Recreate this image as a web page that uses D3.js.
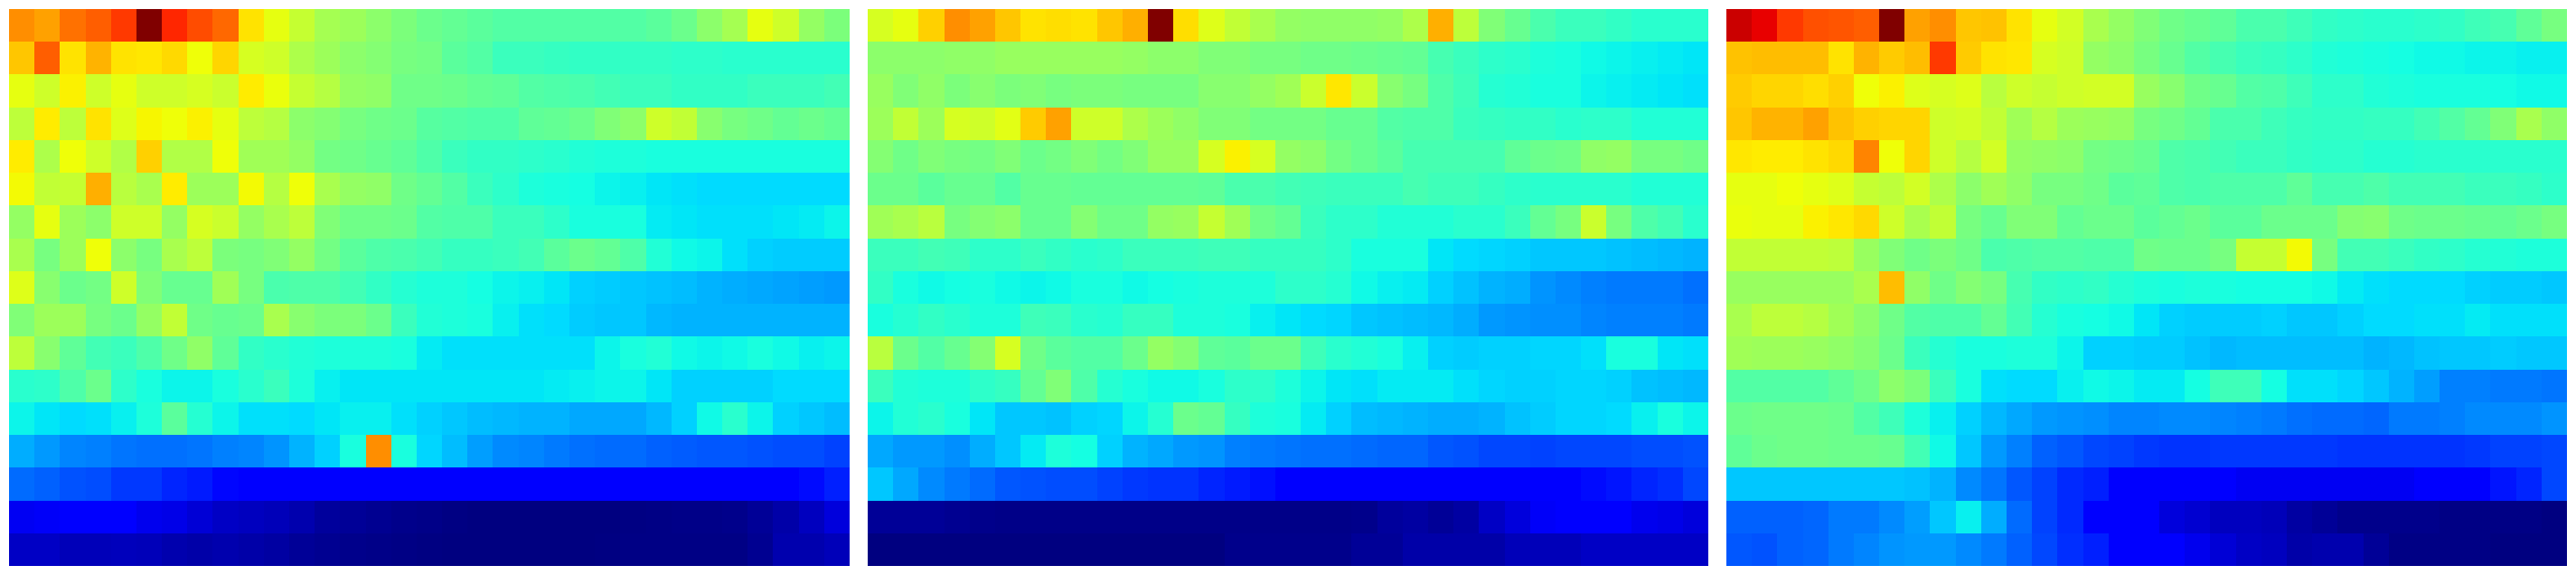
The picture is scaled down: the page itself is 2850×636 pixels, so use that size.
<!DOCTYPE html>
<html><head><meta charset="utf-8">
<script src="https://cdn.jsdelivr.net/npm/d3@7/dist/d3.min.js"></script>
<style>html,body{margin:0;padding:0;background:#fff}svg{display:block}</style>
</head><body><div id="c"></div>
<script>
const panelA = [
[76,74,79,81,85,100,87,83,80,67,63,59,55,54,52,50,48,47,46,45,45,45,45,45,45,46,48,52,55,63,60,53,50],
[70,81,67,72,67,66.5,68,64,68.5,61,60,56,54,52,51,49.5,49,46,45,42,42,41.5,41,41,41,41,40.5,40.5,40,40,40,40,40],
[63,60,65.5,60,63,60,60,61,59.5,66,63.5,59,57,53,52.5,48.5,48.5,48,47,46.5,45,44.5,44,43,42,42,41,41,41,42,42,42,43],
[58,66,58,67,62,65,64,65.5,63,58,57,52,51,49.5,48.5,48,45.5,45,44.5,44.5,46.5,47,48,50.5,52,60,58.5,51.5,49.5,48.5,47,48,47],
[66,56,64,60,56.5,69,56.5,56.5,64,54.5,54.5,53,49,48.5,47.5,46.5,44.5,42,41,41,40.5,40,39,38.5,38.5,38,38,38,38,38,38,38,38],
[64.5,58.5,59,72.5,57.5,55.5,66,54,54,64.5,57,64,55.5,53,52.5,48.5,47,45,42,40.5,38.5,38,37.5,36.5,36,35,34.5,34,34,34,34,34,34],
[53,63,54,52,60,60,53,61,59.5,53,55.5,58,50.5,48.5,48.5,48,45,44.5,44.5,42,42,40.5,38,38,38,35.5,35,34.5,34.5,34.5,35,35.5,36.5],
[55.5,49.5,54,64,52,49.5,55.5,58,50,49.5,50.5,53,49,46,44.5,44,43,41.5,41.5,42,43,46,48,47,44.5,39,37,36.5,34.5,33,32.5,32.5,32.5],
[62,51.5,48,49,60,50.5,47.5,47.5,54.5,49.5,44,44.5,44.5,43,41,39.5,38.5,38.5,37.5,36.5,36,35,33,32.5,32,31.5,31,30,29.5,29,28.5,28,27.5],
[50.5,54,54,49.5,48,53,58.5,48.5,47.5,48,55.5,51.5,50,50,48,42,39,38.5,38,36,34.5,34,32.5,32,32,30.5,30,30,30,30,30,30,30],
[58,51.5,46.5,43,42,44.5,48.5,52.5,46.5,41,40,39,38.5,38.5,38.5,38,35.5,34.5,34.5,34.5,34.5,34.5,34.5,36.5,38,39,37,36.5,37,38,37,36,36.5],
[40,40.5,44.5,48,40.5,38,36.5,36.5,38,40,42,38.5,36,35,35,35,35,35,35,35,35,35.5,36,36.5,36.5,35,33,33,33,33,34,34,34],
[36.5,35,34,34.5,36,38.5,46,39.5,36.5,34.5,34.5,34,35,36,36,34.5,33,32,31,30.5,30,30,29,29,29,30.5,33,37,40,36.5,33,32,31],
[29.5,27.5,25.5,25,24,23.5,23.5,24,25,25.5,27,30,33,38,76,38,33.5,31,28,26,25.5,24.5,23.5,23,23,22,21.5,21,21,20.5,20,20,19],
[23,22,20.5,20,18,18,16,15,13,12,12,12,12,12,12,12,12,12,12,12,12,12,12,12,12,12,12,12,12,12,12,13.5,15.5],
[10,10.5,11.5,11,11,9.5,9,7.5,6,5.5,5,4,2.5,2,1.5,1,0.7,0.3,0,0,0,0,0,0,0.3,0.5,0.7,0.7,1,2,3.5,5.5,8],
[6,6,5,5,5.2,5,4,3.5,4,3.5,3,2,1.5,1,0.7,0.5,0.2,0,0,0,0,0,0,0.2,0.5,0.5,0.5,0.5,0.5,1.5,4,4,5]
];
const panelB = [
[61,63,69,76,74,70,67,67.5,67,70,72.5,100,67.5,62,58.5,55.5,53,52.5,52.5,52.5,53,56,72.5,58,50.5,47.5,44,42,42,41,40,40,40],
[52,52,52,52.5,52.5,53.5,53.5,53.5,53.5,53.5,53,52,52,50.5,50.5,49.5,49.5,48.5,48.5,48,47.5,47,43.5,42,40.5,40,38.5,38,37,36.5,36,35.5,35],
[53.5,50.5,52.5,50,51.5,50,50.5,49.5,50,50,49.5,49.5,49.5,51.5,51.5,53,54.5,59.5,66.5,59.5,51.5,49.5,44.5,42.5,39.5,39,38,38,36.5,36,35.5,35,34.5],
[54,58.5,54,61,60,62.5,69.5,74,60,60,56,54,52.5,50.5,50.5,49,49,49,47.5,47.5,45,44.5,44.5,42,41.5,41,41,40,40.5,40.5,39,39,39],
[51,48.5,50.5,49.5,49,50.5,48,49,50.5,49,50.5,53.5,53.5,61,65.5,61,53,52,49,47.5,46,43.5,43.5,43.5,43.5,46.5,48,48.5,52.5,53,49.5,49.5,48.5],
[48,48,46,47.5,47.5,45,47.5,47.5,47,47,47,47,47,46.5,44,44,43,42.5,42,42,42,43.5,42.5,42.5,41.5,40.5,40,40,40,40,39,39,39],
[54.5,55.5,57.5,49.5,51,52,47.5,47.5,51,48.5,48.5,53,53.5,59,54.5,48.5,47,42,40.5,40.5,39,39,39,40,40,42,47,49.5,59.5,49.5,44.5,43,40],
[42,42,43,42.5,40.5,40.5,42,41,40,40.5,42,42,42,42.5,42.5,41.5,41.5,41.5,40.5,38,38,38,35,34,33.5,33,32,32,32,31.5,31,30.5,30],
[41,38,37,37.5,38,37,36.5,37,38,38,37,37.5,38,38.5,38.5,38.5,40.5,40.5,39.5,37,36,35.5,33,31.5,30,29.5,27,26,25,24.5,24.5,24.5,23.5],
[38,39.5,41,40,38.5,38.5,42.5,42,40,39.5,41.5,41.5,38.5,38.5,38,36,35,34,33.5,32,31.5,31,30.5,29.5,27.5,27,26.5,26.5,25.5,25,25,25,24.5],
[57.5,48,45,47.5,51,61,48.5,46,45,45,48,53,51,46.5,46,48,48,42.5,40,39,38,36,33,32.5,33,33,33.5,33.5,34.5,38,38,35,34.5],
[42,39,38.5,38.5,40.5,41.5,47,50.5,44.5,39.5,38,37,37,38,40.5,40.5,38.5,36.5,35,34.5,35.5,35.5,35.5,34.5,33.5,33,33,33.5,33.5,33,31.5,31,30.5],
[36.5,39,40,38,35,32,32,31.5,33,33.5,36.5,39.5,48,47,41.5,38.5,38,35.5,33,31,30.5,30,29.5,29.5,30,31.5,32.5,33.5,33.5,34,36,38,36.5],
[29,27.5,27.5,26.5,29.5,32,35.5,38.5,37.5,33,30,29,27.5,27,25,24.5,24,23.5,23.5,23,22.5,22.5,21,20.5,19.5,19.5,19,19.5,19.5,19.5,20,20,20.5],
[32,29,26,24.5,23,21,20.5,20,20,19,18,17.5,17.5,16,15,14,12.5,12,12,12,12,12,12,12,12,12,12,12,13.5,14.5,16,17,19.5],
[2,2,2,1.5,1,0.7,0.7,0.7,0.7,0.7,0.7,0.7,0.7,0.7,0.7,0.7,0.7,0.7,0.7,1,2.5,3,2,3,6,8,10.5,11.5,11.5,11,9.5,9,8],
[0,0,0,0,0,0,0,0,0,0,0,0,0,0,1,1,1,1,1,2,2,3.5,3.5,3.5,3.5,5,5,5,6,6,6,6,6]
];
const panelC = [
[93.5,91,85,82.5,82,81,100,74,76,70,70.5,67,63,60.5,55.5,53,50.5,48.5,47.5,46.5,44,44,42.5,41,40.5,40,40,40.5,41,42.5,43.5,46.5,49.5],
[70.5,71,71,71,67,72,69.5,71,85,69.5,67,66.5,61,60,53,52,49.5,47.5,45,43.5,42,41.5,40.5,39,38.5,38,37.5,37,37,36.5,36.5,36,36],
[69.5,68.5,68.5,67.5,69,64,65.5,62,61,62,57.5,60,59,60,60.5,60.5,53.5,51.5,48.5,47.5,45,44.5,42.5,40.5,40.5,39,38.5,38,38,38,37.5,37,37],
[70,72,72,74,70.5,69,68.5,68.5,60,60.5,58.5,54.5,57,54,53.5,53,49.5,48.5,47,44,44,42.5,41.5,41,41,41.5,41.5,43,45,47,50.5,55.5,52.5],
[66.5,66,66,67,68,77,64,68.5,60,57,60.5,53,52.5,52,49,48.5,47.5,44.5,44,43,42,42,41,40.5,40.5,39.5,39.5,40,40,40,40,40,40],
[63,63,64,63,62,59,58,60.5,56,52,54.5,52.5,49.5,49.5,48.5,46,46.5,44.5,44,44.5,44.5,44.5,46.5,43.5,43.5,44.5,43,43,43,42,42,41.5,40.5],
[63.5,63,63,65.5,66.5,68,60,55.5,58.5,49.5,47.5,50.5,50.5,47,48,48,46,47,48,46,46,48,48,48,51,51.5,48.5,48,48,47.5,47,48,49.5],
[58.5,58.5,58.5,58.5,58,53.5,50.5,48.5,50,48.5,44,44.5,45,45,44.5,44.5,48.5,48,48,49.5,59,59,64.5,49.5,43,43,42,41,40.5,39.5,39,38.5,38.5],
[53.5,53.5,53.5,53.5,53.5,55.5,71,52.5,48.5,51,49.5,43.5,41,40.5,41,39.5,38.5,38,38.5,38,37.5,37.5,37.5,37,35.5,34.5,34,34,34,33,32.5,32.5,32],
[55.5,58,58,57,54.5,52,48.5,45,44.5,44.5,47,43,39.5,38,37.5,37,35,33,32.5,32.5,32.5,33,32,32,33,34,34,34.5,34.5,35.5,34.5,34.5,34.5],
[54.5,54,54,53.5,52.5,51,48,42,39.5,38,38,38.5,38.5,36.5,33,33,32.5,32.5,31.5,30.5,31,31,31,31,31,30,30.5,31.5,32,32,32.5,32,32],
[45,45,45,45,46.5,48.5,52,50,42,38,34.5,34,34,36,37,36.5,35.5,35.5,37.5,42.5,42.5,37.5,34.5,34.5,33.5,32,30,28,25,25,24.5,24.5,24],
[48,48.5,48.5,48.5,48,45,42.5,38.5,36,33,30.5,29,27.5,27,26.5,25.5,25.5,26,26,25.5,25,24.5,23.5,23,23,22.5,24.5,24.5,25,26,26,26,27],
[46.5,48,48.5,48.5,48,48,47.5,43,37,32,27.5,25,22,21,19.5,19,18,17.5,17.5,18,18,18,18,18,17.5,17.5,17.5,17.5,17.5,18,19,19,19.5],
[32,32,32,32,32,32,32,31.5,30,26,24,21,19,16.5,15.5,11,12,12,11,11,10,10,10,10,10,10,10,11,12,12,14.5,16,19.5],
[22,22,22,22.5,24.5,24.5,26,28,32,36,29.5,23,19,16.5,12.5,12,11,8,7,5.5,5.5,5,3,2,1,1,1,1,0.5,0.5,0.5,0.5,0],
[21,20.5,22,22.5,24.5,25.5,27,27.5,27.5,26,24.5,22,19.5,17,15.5,12,12,11,9.5,7.5,6,5.5,3.5,4,4,2,0.5,0.5,0.5,0.5,0,0,0]
];
const panels = [panelA, panelB, panelC];
const panelLefts = [10, 960, 1910];
const panelWidth = 930, plotTop = 10, plotBottom = 626;

// matplotlib "jet" as three piecewise-linear channels
const red   = d3.scaleLinear().domain([0,35,66,89,100]).range([0,0,1,1,.5]);
const green = d3.scaleLinear().domain([0,12.5,37.5,64,91,100]).range([0,0,1,1,0,0]);
const blue  = d3.scaleLinear().domain([0,11,34,65,100]).range([.5,1,1,0,0]);
const jet = v => d3.rgb(red(v)*255, green(v)*255, blue(v)*255).formatHex();

const svg = d3.select("#c").append("svg").attr("width",2850).attr("height",636);
const rowIdx = d3.range(17), colIdx = d3.range(33);
const y = d3.scaleBand().domain(rowIdx).range([plotTop,plotBottom]);
panels.forEach((data,p)=>{
  const x = d3.scaleBand().domain(colIdx).range([panelLefts[p],panelLefts[p]+panelWidth]);
  const g = svg.append("g");
  data.forEach((row,r)=>{
    g.selectAll(null).data(row).enter().append("rect")
      .attr("x",(d,c)=>x(c)).attr("y",y(r))
      .attr("width",x.bandwidth()).attr("height",y.bandwidth())
      .attr("shape-rendering","crispEdges")
      .attr("fill",d=>jet(d));
  });
});
</script></body></html>
